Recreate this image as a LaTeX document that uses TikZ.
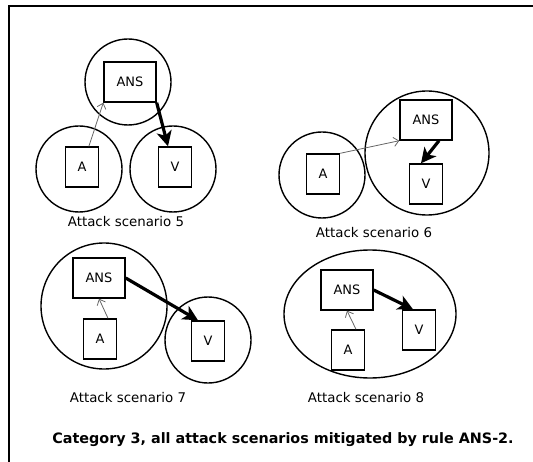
\documentclass[tikz,border=0pt]{standalone}
\usepackage{fontspec}
\setmainfont{DejaVu Sans}
\usetikzlibrary{arrows.meta,shapes.geometric}

\tikzset{
  zone/.style={circle, draw, line width=1.4bp, inner sep=0},
  agent/.style={rectangle, draw, line width=1.4bp, minimum width=33bp, minimum height=40bp, inner sep=0, font=\fontsize{13}{15}\selectfont},
  wideagent/.style={agent, minimum width=52bp},
  weak/.style={-{Straight Barb[length=5bp,width=9bp]}, line width=0.8bp, black!60},
  strong/.style={-{Stealth[length=15bp,width=15bp,inset=4bp]}, line width=3.2bp},
  caption/.style={font=\fontsize{13.4}{15}\selectfont, inner sep=0}
}

\begin{document}
\begin{tikzpicture}[x=1bp, y=-1bp]
    \useasboundingbox (0,0) rectangle (533,462);
    \draw[line width=1.5bp] (9,462) -- (9,6) -- (533,6);

    \node[zone, minimum size=86bp] (z5a) at (79,169) {};
    \node[zone, minimum size=86bp] (z5v) at (173,169) {};
    \node[zone, minimum size=86bp] (z5n) at (128,82) {};
    \node[wideagent] (ans5) at (130,82) {ANS};
    \node[agent] (a5) at (82,167) {A};
    \node[agent] (v5) at (175,167) {V};
    \node[caption] (t5) at (126,222) {Attack scenario 5};

    \node[zone, minimum size=86bp] (z6a) at (322,175) {};
    \node[zone, minimum size=124bp] (z6n) at (427,153) {};
    \node[wideagent] (ans6) at (426,120) {ANS};
    \node[agent] (a6) at (323,174) {A};
    \node[agent] (v6) at (426,184) {V};
    \node[caption] (t6) at (374,233) {Attack scenario 6};

    \node[zone, minimum size=126bp] (z7n) at (104,306) {};
    \node[zone, minimum size=86bp] (z7v) at (208,340) {};
    \node[wideagent] (ans7) at (99,278) {ANS};
    \node[agent] (a7) at (100,339) {A};
    \node[agent] (v7) at (208,341) {V};
    \node[caption] (t7) at (128,398) {Attack scenario 7};

    \node[ellipse, draw, line width=1.4bp, minimum width=172bp, minimum height=128bp] (z8n) at (370,314) {};
    \node[wideagent] (ans8) at (347,290) {ANS};
    \node[agent] (a8) at (348,350) {A};
    \node[agent] (v8) at (419,330) {V};
    \node[caption] (t8) at (366,398) {Attack scenario 8};

    \draw[weak] (a5) -- (ans5.south west);
    \draw[strong] (ans5.south east) -- ([xshift=-7bp]v5.north);
    \draw[weak] (a6.north east) -- (ans6.south west);
    \draw[strong] ([xshift=13bp]ans6.south) -- ([xshift=-5bp]v6.north);
    \draw[weak] ([xshift=8bp]a7.north) -- (ans7.south);
    \draw[strong] (ans7.east) -- ([xshift=-10bp]v7.north);
    \draw[weak] ([xshift=8bp]a8.north) -- (ans8.south);
    \draw[strong] (ans8.east) -- ([xshift=-6bp]v8.north);

    \node[font=\bfseries\fontsize{14.4}{16}\selectfont, inner sep=0] (cap) at (283,440) {Category 3, all attack scenarios mitigated by rule ANS-2.};
\end{tikzpicture}
\end{document}
